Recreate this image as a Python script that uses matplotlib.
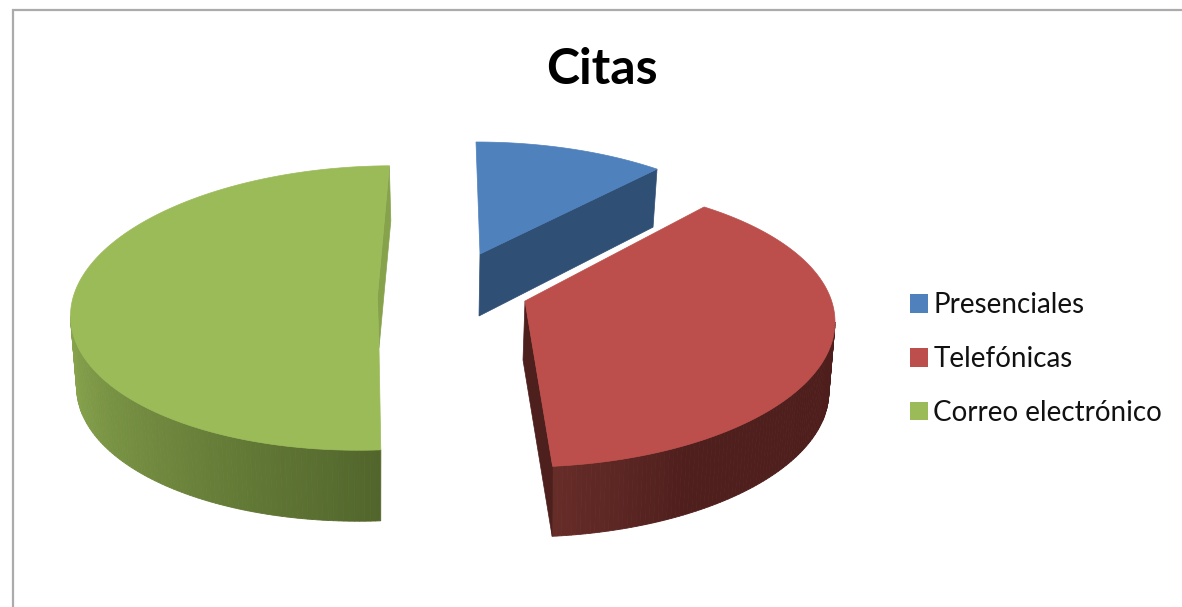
import numpy as np
import matplotlib
matplotlib.use("Agg")
import matplotlib.pyplot as plt
from matplotlib.patches import Patch
from matplotlib.colors import to_rgb

# Data
title = "Citas"
categories = ["Presenciales", "Telefónicas", "Correo electrónico"]
values = [10, 39, 51]

# Styling
top_colors = ["#4F81BD", "#BC4F4B", "#9BBB59"]
start_angles = [0.0, 35.0, 179.0]
tip_xy = [(480, 254), (525, 301), (379, 348)]
centres = [(476, 284), (528, 325), (375.5, 308)]
rx_ry = [(308, 142), (307, 142), (305, 142)]
tilts = [0, 3, 8]
depths = [62, 70, 71]

W, H = 1182, 607
fig = plt.figure(figsize=(W / 100, H / 100), dpi=100, facecolor="white")
ax = fig.add_axes([0, 0, 1, 1])
ax.set_xlim(0, W)
ax.set_ylim(H, 0)
ax.axis("off")

ax.plot([12.5, 12.5, W], [H, 9.5, 9.5], color="#ABABAB", lw=1.6, solid_joinstyle="miter")


def rim(i, theta, lower=False):
    cx, cy = centres[i]
    rx, ry = rx_ry[i]
    t = np.radians(theta)
    k = 0.98 if lower else 1.0
    return (cx + k * rx * np.sin(t),
            cy - ry * np.cos(t) - tilts[i] * np.sin(t) + (depths[i] if lower else 0))


def wall(i, a, b, ca, cb, n=70, z=2):
    th = np.linspace(a, b, n + 1)
    x0, y0 = rim(i, th)
    x1, y1 = rim(i, th, lower=True)
    ca, cb = np.array(to_rgb(ca)), np.array(to_rgb(cb))
    for j in range(n):
        f = j / (n - 1)
        c = ca + (cb - ca) * f
        ax.fill([x0[j], x0[j + 1], x1[j + 1], x1[j]], [y0[j], y0[j + 1], y1[j + 1], y1[j]],
                color=c, lw=0.6, zorder=z)


angles = [v / sum(values) * 360 for v in values]
spans = [(s, s + a) for s, a in zip(start_angles, angles)]

# --- Presenciales
a, b = spans[0]
th = np.linspace(a, b, 80)
x, y = rim(0, th)
ex, ey = x[-1], y[-1]
tx, ty = tip_xy[0]
ax.fill([tx, ex, ex - 4, tx - 1], [ty, ey, ey + 58, ty + depths[0]], color="#2F4F75", lw=0.5, zorder=2)
ax.fill(np.r_[tx, x], np.r_[ty, y], color=top_colors[0], lw=0.5, zorder=3)

# --- Telefónicas
a, b = spans[1]
tx, ty = tip_xy[1]
wall(1, 90, 148, "#4E1E1C", "#4F1F1D", n=60)
wall(1, 148, b, "#4F1F1D", "#662C28", n=30)
ex, ey = rim(1, b)
lx, ly = rim(1, b, lower=True)
ax.fill([tx, ex, lx, tx - 2], [ty, ey, ly, ty + 59], color="#4D1F1D", lw=0.5, zorder=2)
th = np.linspace(a, b, 160)
x, y = rim(1, th)
ax.fill(np.r_[tx, x], np.r_[ty, y], color=top_colors[1], lw=0.5, zorder=3)

# --- Correo electrónico
a, b = spans[2]
tx, ty = tip_xy[2]
wall(2, 270, a, "#8BA84F", "#52662C", n=90)
ex, ey = rim(2, b)
bx, by = tx + (ex - tx) * 0.28 - 4.5, ty + (ey - ty) * 0.28
ax.fill([ex, ex + 1.5, tx, bx], [ey, ey + 55, ty, by], color="#86A34C", lw=0.5, zorder=2)
th = np.linspace(a, b, 200)
x, y = rim(2, th)
ax.fill(np.r_[x, bx, tx], np.r_[y, by, ty], color=top_colors[2], lw=0.5, zorder=3)

ax.text(602, 70, title, ha="center", va="center", fontsize=36, fontweight="bold",
        family="Lato", color="black")

handles = [Patch(facecolor=c, edgecolor="none", label=l) for c, l in zip(top_colors, categories)]
ax.legend(handles=handles, loc="center left", bbox_to_anchor=(899 / W, 1 - 359 / H),
          bbox_transform=fig.transFigure, frameon=False, prop={"family": "Lato", "size": 20},
          handlelength=0.65, handleheight=0.65, handletextpad=0.18, labelspacing=1.0,
          borderpad=0.4, borderaxespad=0, labelcolor="#111111")

fig.savefig("out.png", dpi=100, facecolor="white")
